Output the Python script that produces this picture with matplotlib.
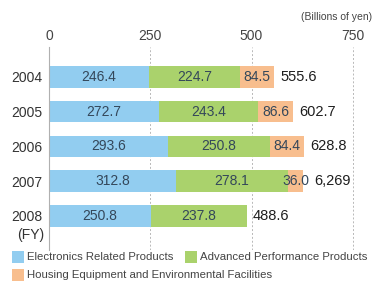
import matplotlib
matplotlib.use("Agg")
import matplotlib.pyplot as plt
from matplotlib.patches import Rectangle
from matplotlib import font_manager
import numpy as np

years = ["2004", "2005", "2006", "2007", "2008"]
electronics = [246.4, 272.7, 293.6, 312.8, 250.8]
advanced = [224.7, 243.4, 250.8, 278.1, 237.8]
housing = [84.5, 86.6, 84.4, 36.0, 0.0]
total_labels = ["555.6", "602.7", "628.8", "6,269", "488.6"]
series_names = ["Electronics Related Products", "Advanced Performance Products",
                "Housing Equipment and Environmental Facilities"]
xticks = [0, 250, 500, 750]

colors = ["#92cdf0", "#aad26c", "#f8be8e"]

names = {f.name for f in font_manager.fontManager.ttflist}
main_font = "Liberation Sans" if "Liberation Sans" in names else "DejaVu Sans"
narrow_font = "Liberation Sans Narrow" if "Liberation Sans Narrow" in names else main_font
plt.rcParams['font.family'] = [main_font, 'DejaVu Sans']

W, H = 376, 282
fig = plt.figure(figsize=(W / 100, H / 100), dpi=100)
ax = fig.add_axes([49 / W, 1 - 250 / H, 320 / W, 203 / H])

y = np.arange(len(years))
e = np.array(electronics)
a = np.array(advanced)
h = np.array(housing)
bh = 0.62
ax.barh(y, e, height=bh, color=colors[0], zorder=2)
ax.barh(y, a, left=e, height=bh, color=colors[1], zorder=2)
ax.barh(y, h, left=e + a, height=bh, color=colors[2], zorder=2)

seg_color = "#34475a"
for i in range(len(years)):
    ax.text(e[i] / 2, y[i], f"{e[i]:.1f}", ha="center", va="center",
            fontsize=10, color=seg_color, zorder=3)
    ax.text(e[i] + a[i] / 2, y[i], f"{a[i]:.1f}", ha="center", va="center",
            fontsize=10, color=seg_color, zorder=3)
    end = e[i] + a[i] + h[i]
    tx = end + 15
    if h[i] > 0:
        c = e[i] + a[i] + h[i] / 2
        ax.text(c, y[i], f"{h[i]:.1f}", ha="center", va="center",
                fontsize=10, color=seg_color, zorder=3)
        tx = max(tx, c + 46)
    ax.text(tx, y[i], total_labels[i], ha="left", va="center",
            fontsize=10.5, color="#1e1e1e", zorder=3)

ax.set_xlim(0, 790)
ax.set_ylim(4.98, -0.863)
ax.xaxis.tick_top()
ax.set_xticks(xticks)
ax.set_xticklabels([str(t) for t in xticks])
ax.tick_params(axis="x", length=0, pad=3, labelsize=10, labelcolor="#444444")
ax.set_yticks(y)
ax.set_yticklabels(years)
ax.tick_params(axis="y", length=0, pad=5, labelsize=10, labelcolor="#333333")
for sp in ["top", "right", "bottom"]:
    ax.spines[sp].set_visible(False)
ax.spines["left"].set_color("#b0b0b0")
ax.spines["left"].set_linewidth(0.8)
for t in xticks[1:]:
    ax.axvline(t, color="#b8b8b8", linestyle=(0, (2, 2)), linewidth=0.7, zorder=1)

fig.text(44 / W, 1 - 235 / H, "(FY)", ha="right", va="center", fontsize=10, color="#333333")
fig.text(372 / W, 1 - 17 / H, "(Billions of yen)", ha="right", va="center",
         fontsize=7.5, color="#444444", family=[narrow_font, main_font])

legend_items = [(12, 257, 0), (185, 257, 1), (12, 275, 2)]
for (px, py, k) in legend_items:
    fig.add_artist(Rectangle((px / W, 1 - (py + 6) / H), 12 / W, 12 / H,
                             transform=fig.transFigure, color=colors[k], lw=0))
    fig.text((px + 15) / W, 1 - py / H, series_names[k], ha="left", va="center",
             fontsize=8.2, color="#444444", family=[narrow_font, main_font])

fig.savefig("out.png", dpi=100)
